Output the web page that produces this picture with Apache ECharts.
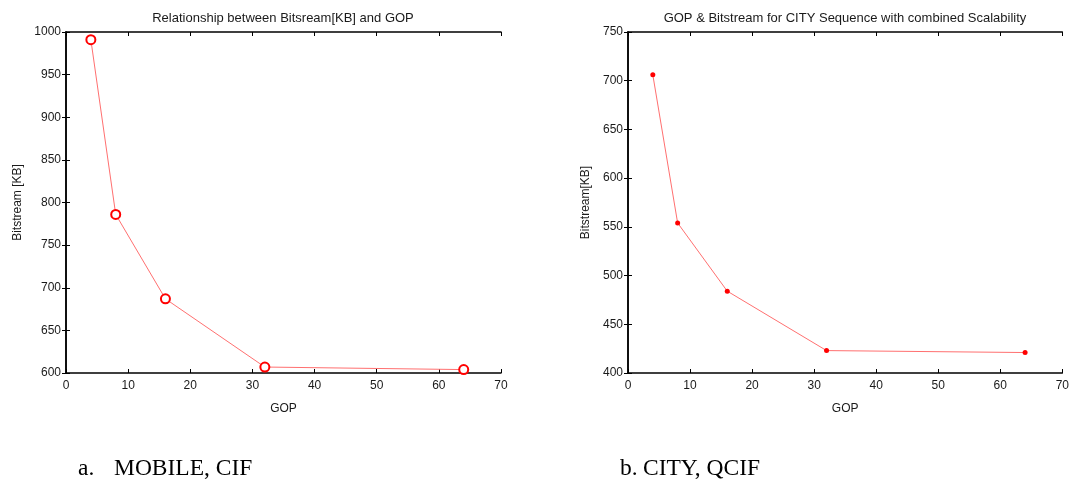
<!DOCTYPE html>
<html>
<head>
<meta charset="utf-8">
<style>
  html, body { margin: 0; padding: 0; background: #fff; }
  #chart { width: 1072px; height: 484px; }
</style>
<script src="https://cdn.jsdelivr.net/npm/echarts@6/dist/echarts.min.js"></script>
</head>
<body>
<div id="chart"></div>
<script>
// GOP sizes tested
const gop = [4, 8, 16, 32, 64];
// Bitstream size [KB] per GOP
const mobileCif = [991, 786, 687, 607, 604];
const cityQcif = [706, 554, 484, 423, 421];

const titles = [
  'Relationship between Bitsream[KB] and GOP',
  'GOP & Bitstream for CITY Sequence with combined Scalability'
];
const captionMarks = ['a.', 'b.'];
const captionTexts = ['MOBILE, CIF', 'CITY, QCIF'];
const yNames = ['Bitstream [KB]', 'Bitstream[KB]'];
const xName = 'GOP';

const font = 'Liberation Sans, Arial, sans-serif';
const serif = 'Liberation Serif, Times New Roman, serif';
const axisColor = '#000';
const textColor = '#1a1a1a';

function pairs(xs, ys) { return xs.map((x, i) => [x, ys[i]]); }

function xAxes(gridIndex) {
  const base = {
    type: 'value', gridIndex, min: 0, max: 70, interval: 10,
    axisLine: { show: true, lineStyle: { color: axisColor, width: 1.5 } },
    axisTick: { show: true, inside: true, length: 4, lineStyle: { color: axisColor, width: 1 } },
    splitLine: { show: false }
  };
  return [
    Object.assign({}, base, {
      position: 'bottom',
      name: xName, nameLocation: 'middle', nameGap: 30,
      nameTextStyle: { fontFamily: font, fontSize: 12, color: textColor },
      axisLabel: { fontFamily: font, fontSize: 12, color: textColor, margin: 7 }
    }),
    Object.assign({}, base, { position: 'top', axisLabel: { show: false } })
  ];
}

function yAxes(gridIndex, min, max, name, gap) {
  const base = {
    type: 'value', gridIndex, min, max, interval: 50,
    axisLine: { show: true, lineStyle: { color: axisColor, width: 1.5 } },
    axisTick: { show: true, inside: true, length: 4, lineStyle: { color: axisColor, width: 1 } },
    splitLine: { show: false }
  };
  return [
    Object.assign({}, base, {
      position: 'left',
      name, nameLocation: 'middle', nameGap: gap,
      nameTextStyle: { fontFamily: font, fontSize: 12, color: textColor },
      axisLabel: { fontFamily: font, fontSize: 12, color: textColor, margin: 5,
                   formatter: v => String(v) }
    }),
    Object.assign({}, base, { position: 'right', axisLabel: { show: false } })
  ];
}

function caption(i, left) {
  return {
    text: '{m|' + captionMarks[i] + '}{t|' + captionTexts[i] + '}',
    left, top: 457, padding: 0,
    textStyle: {
      fontWeight: 'normal',
      rich: {
        m: { fontFamily: serif, fontSize: 23.5, fontWeight: 'normal', color: '#000', width: i === 0 ? 36 : 23 },
        t: { fontFamily: serif, fontSize: 23.5, fontWeight: 'normal', color: '#000' }
      }
    }
  };
}

const chart = echarts.init(document.getElementById('chart'), null, { renderer: 'canvas' });

chart.setOption({
  backgroundColor: '#fff',
  animation: false,
  title: [
    { text: titles[0], left: 283, top: 12, padding: 0, textAlign: 'center',
      textStyle: { fontFamily: font, fontSize: 13, fontWeight: 'normal', color: textColor } },
    { text: titles[1], left: 845, top: 12, padding: 0, textAlign: 'center',
      textStyle: { fontFamily: font, fontSize: 13, fontWeight: 'normal', color: textColor } },
    caption(0, 78),
    caption(1, 620)
  ],
  grid: [
    { left: 66, right: 571, top: 32, bottom: 111 },
    { left: 628, right: 9, top: 32, bottom: 111 }
  ],
  xAxis: [...xAxes(0), ...xAxes(1)],
  yAxis: [...yAxes(0, 600, 1000, yNames[0], 42), ...yAxes(1, 400, 750, yNames[1], 36)],
  series: [
    {
      type: 'line', xAxisIndex: 0, yAxisIndex: 0,
      data: pairs(gop, mobileCif),
      symbol: 'emptyCircle', symbolSize: 9,
      lineStyle: { color: '#ff7070', width: 1 },
      itemStyle: { color: '#ff0000', borderWidth: 1 }
    },
    {
      type: 'line', xAxisIndex: 2, yAxisIndex: 2,
      data: pairs(gop, cityQcif),
      symbol: 'circle', symbolSize: 5,
      lineStyle: { color: '#ff7070', width: 1 },
      itemStyle: { color: '#ff0000' }
    }
  ]
});
</script>
</body>
</html>
